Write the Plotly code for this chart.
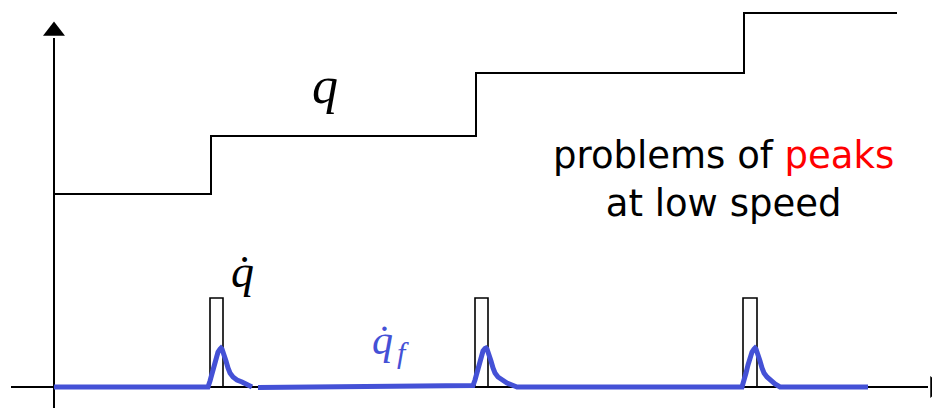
import plotly.graph_objects as go

# ---- data (schematic units: time along x, amplitude along y) ----
# position q : staircase
q_t = [0, 157, 157, 422, 422, 690, 690, 843]
q_v = [193, 193, 251, 251, 314, 314, 374, 374]

# velocity qdot : narrow rectangular pulses at each step
pulse_t0 = [156, 421, 689]
pulse_t1 = [169, 434, 703]
pulse_h = 89

# filtered velocity qdot_f (blue), two pieces
f1_t = [0, 154, 156, 158, 160, 162, 164, 166, 167, 168, 170, 172, 174, 176, 179, 183, 188, 193, 198]
f1_v = [0, 0, 6, 14, 22, 29, 35, 38, 39, 38, 33, 26, 19, 14, 10, 7, 5, 3, 0]
f2_t = [204, 419, 421, 423, 425, 427, 429, 431, 432, 433, 435, 437, 439, 441, 444, 448, 453, 458, 463,
        688, 690, 692, 694, 696, 698, 700, 701, 702, 704, 706, 708, 710, 713, 717, 721, 726, 814]
f2_v = [-0.5, 1.5, 7, 15, 23, 30, 36, 38.5, 39, 38, 33, 26, 19, 14, 10, 7, 4, 2, 0,
        0, 6, 14, 22, 29, 35, 38, 39, 38, 33, 26, 19, 14, 10, 6, 3, 0, 0]

# axes extents
x_axis_t = [-43, 874]
y_axis_v = [-21, 349]

BLUE = "#4451D6"

fig = go.Figure()

# staircase q
fig.add_trace(go.Scatter(x=q_t, y=q_v, mode="lines",
                         line=dict(color="black", width=2), hoverinfo="skip"))

# pulses
for a, b in zip(pulse_t0, pulse_t1):
    fig.add_trace(go.Scatter(x=[a, a, b, b], y=[0, pulse_h, pulse_h, 0], mode="lines",
                             line=dict(color="black", width=1.6), hoverinfo="skip"))

# axes with arrowheads
fig.add_trace(go.Scatter(x=x_axis_t, y=[0, 0], mode="lines",
                         line=dict(color="black", width=2), hoverinfo="skip"))
fig.add_trace(go.Scatter(x=[0, 0], y=y_axis_v, mode="lines",
                         line=dict(color="black", width=2), hoverinfo="skip"))
fig.add_trace(go.Scatter(x=[x_axis_t[1] + 7], y=[0], mode="markers",
                         marker=dict(symbol="triangle-right", size=19, color="black"),
                         hoverinfo="skip"))
fig.add_trace(go.Scatter(x=[0], y=[y_axis_v[1] + 7], mode="markers",
                         marker=dict(symbol="triangle-up", size=19, color="black"),
                         hoverinfo="skip"))

# filtered velocity
for tt, vv in ((f1_t, f1_v), (f2_t, f2_v)):
    fig.add_trace(go.Scatter(x=tt, y=vv, mode="lines",
                             line=dict(color=BLUE, width=5), hoverinfo="skip"))

serif = "Liberation Serif"
ann = [
    dict(x=271, y=302, text="<i>q</i>", font=dict(family=serif, size=52, color="black")),
    dict(x=188, y=116, text="<i>q\u0307</i>", font=dict(family=serif, size=46, color="black")),
    dict(x=328, y=47, text="<i>q\u0307</i>", font=dict(family=serif, size=42, color=BLUE)),
    dict(x=349, y=35, text="<i>f</i>", font=dict(family=serif, size=30, color=BLUE)),
    dict(x=669, y=208, text="problems of <span style='color:red'>peaks</span><br>at low speed",
         font=dict(family="DejaVu Sans", size=37, color="black")),
]
for a in ann:
    fig.add_annotation(showarrow=False, xanchor="center", yanchor="middle", xref="x", yref="y", **a)

fig.update_layout(
    width=932, height=408, margin=dict(l=0, r=0, t=0, b=0),
    paper_bgcolor="white", plot_bgcolor="white", showlegend=False,
    xaxis=dict(range=[-54, 878], visible=False, fixedrange=True),
    yaxis=dict(range=[-21, 387], visible=False, fixedrange=True),
)
fig.write_html("out.html", config={"staticPlot": True},
               post_script="document.body.style.margin='0';document.body.style.overflow='hidden';")
